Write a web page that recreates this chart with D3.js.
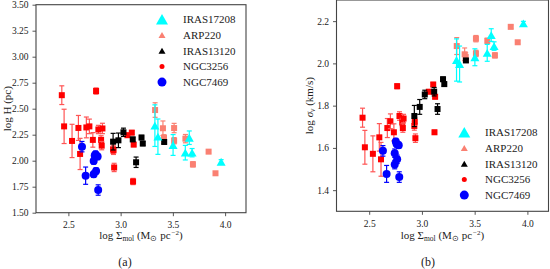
<!DOCTYPE html>
<html><head><meta charset="utf-8">
<script src="https://cdn.jsdelivr.net/npm/d3@7"></script>
<style>body{margin:0;background:#fff}svg{display:block}</style>
</head><body>
<svg id="c" width="550" height="269"></svg>
<script>
// ---------- DATA ----------
const seriesNames = ["IRAS17208", "ARP220", "IRAS13120", "NGC3256", "NGC7469"];

const iras17208_x = [3.328, 3.357, 3.502, 3.619, 3.657, 3.684, 3.962];
const iras17208_logH = [2.337, 2.231, 2.151, 2.077, 2.221, 2.077, 1.99];
const iras17208_logH_err = [0.2, 0.17, 0.1, 0.07, 0.065, 0.04, 0.02];
const iras17208_logSig = [2.016, 1.997, 2.029, 2.05, 2.134, 2.082, 2.189];
const iras17208_logSig_err = [0.1, 0.085, 0.04, 0.04, 0.03, 0.02, 0.01];

const arp220_x = [3.330, 3.405, 3.415, 3.512, 3.512, 3.620, 3.692, 3.842, 3.908];
const arp220_logH = [2.487, 2.312, 2.22, 2.314, 2.192, 2.212, 1.965, 2.087, 1.879];
const arp220_logH_err = [0.07, 0.07, 0.03, 0.045, 0.03, 0.04, 0.025, 0.015, 0.015];
const arp220_logSig = [2.082, 2.043, 2.03, 2.117, 2.047, 2.107, 2.038, 2.173, 2.1];
const arp220_logSig_err = [0.04, 0.03, 0.02, 0.015, 0.015, 0.012, 0.012, 0.008, 0.008];

const iras13120_x = [2.928, 2.979, 3.027, 3.116, 3.148, 3.200, 3.212, 3.417];
const iras13120_logH = [2.183, 2.196, 2.273, 2.205, 1.985, 2.223, 2.165, 2.18];
const iras13120_logH_err = [0.08, 0.07, 0.04, 0.02, 0.05, 0.02, 0.02, 0.015];
const iras13120_logSig = [1.751, 1.794, 1.853, 1.866, 1.784, 1.925, 1.902, 2.014];
const iras13120_logSig_err = [0.05, 0.035, 0.02, 0.02, 0.025, 0.01, 0.01, 0.008];

const ngc3256_x = [2.437, 2.459, 2.535, 2.596, 2.612, 2.672, 2.701, 2.734, 2.765, 2.787, 2.813, 2.819, 2.826, 2.928, 2.932, 2.938, 3.065, 3.107, 3.119, 3.125];
const ngc3256_logH = [2.63, 2.33, 2.19, 2.315, 2.065, 2.32, 2.33, 2.20, 2.67, 2.30, 2.20, 2.145, 2.31, 2.11, 2.10, 1.935, 2.245, 2.27, 1.80, 2.155];
const ngc3256_logH_err = [0.09, 0.165, 0.16, 0.12, 0.15, 0.10, 0.07, 0.07, 0.03, 0.04, 0.04, 0.04, 0.05, 0.04, 0.04, 0.04, 0.02, 0.02, 0.03, 0.02];
const ngc3256_logSig = [1.743, 1.603, 1.572, 1.65, 1.546, 1.694, 1.726, 1.674, 1.892, 1.751, 1.72, 1.694, 1.739, 1.704, 1.724, 1.646, 1.866, 1.9, 1.674, 1.842];
const ngc3256_logSig_err = [0.045, 0.08, 0.085, 0.065, 0.08, 0.045, 0.035, 0.04, 0.012, 0.02, 0.02, 0.02, 0.02, 0.02, 0.02, 0.02, 0.01, 0.01, 0.01, 0.01];

const ngc7469_x = [2.630, 2.665, 2.742, 2.742, 2.752, 2.760, 2.765, 2.780, 2.785];
const ngc7469_logH = [2.135, 1.856, 1.997, 1.869, 2.05, 2.062, 1.901, 2.04, 1.718];
const ngc7469_logH_err = [0.05, 0.083, 0.03, 0.03, 0.03, 0.03, 0.03, 0.03, 0.05];
const ngc7469_logSig = [1.586, 1.477, 1.575, 1.521, 1.63, 1.619, 1.546, 1.613, 1.462];
const ngc7469_logSig_err = [0.025, 0.04, 0.02, 0.02, 0.015, 0.015, 0.02, 0.015, 0.025];

const xTicks = [2.5, 3.0, 3.5, 4.0];
const yTicksA = [1.50, 1.75, 2.00, 2.25, 2.50, 2.75, 3.00, 3.25, 3.50];
const yTicksB = [1.4, 1.6, 1.8, 2.0, 2.2];

// ---------- STYLE ----------
const FONT = "'Liberation Serif','Times New Roman',serif";
const styles = {
  IRAS17208: {color: "#00ffff", bar: "#00ffff", shape: "tri", size: 9, legShape: "tri", legSize: 12},
  ARP220:    {color: "#fa8072", bar: "#fa8072", shape: "sq", size: 6, legShape: "tri", legSize: 7},
  IRAS13120: {color: "#000000", bar: "#000000", shape: "sq", size: 6, legShape: "tri", legSize: 7},
  NGC3256:   {color: "#ff0000", bar: "#ff5555", shape: "sq", size: 6, legShape: "circ", legSize: 5},
  NGC7469:   {color: "#0000ff", bar: "#0000ff", shape: "circ", size: 8, legShape: "circ", legSize: 9}
};

function build(x, y, e) { return x.map((v, i) => ({x: v, y: y[i], e: e[i]})); }

const panelA = {
  x0: 36, x1: 246, y0: 4.7, y1: 212.7, yDomain: [1.5, 3.5], yTicks: yTicksA, fmt: d3.format(".2f"),
  series: {
    ARP220: build(arp220_x, arp220_logH, arp220_logH_err),
    NGC3256: build(ngc3256_x, ngc3256_logH, ngc3256_logH_err),
    IRAS13120: build(iras13120_x, iras13120_logH, iras13120_logH_err),
    NGC7469: build(ngc7469_x, ngc7469_logH, ngc7469_logH_err),
    IRAS17208: build(iras17208_x, iras17208_logH, iras17208_logH_err)
  },
  legend: {mx: 162, tx: 183, y: 19.3, dy: 15.7},
  ylabel: "H", ylx: 10.5, caption: "(a)", capX: 125
};
const panelB = {
  x0: 336.5, x1: 548.5, y0: 0, y1: 211.3, yDomain: [1.3, 2.3], yTicks: yTicksB, fmt: d3.format(".1f"),
  series: {
    ARP220: build(arp220_x, arp220_logSig, arp220_logSig_err),
    NGC3256: build(ngc3256_x, ngc3256_logSig, ngc3256_logSig_err),
    IRAS13120: build(iras13120_x, iras13120_logSig, iras13120_logSig_err),
    NGC7469: build(ngc7469_x, ngc7469_logSig, ngc7469_logSig_err),
    IRAS17208: build(iras17208_x, iras17208_logSig, iras17208_logSig_err)
  },
  legend: {mx: 464.3, tx: 485, y: 132.3, dy: 15.7},
  ylabel: "sigma", ylx: 313, caption: "(b)", capX: 428
};

const svg = d3.select("#c");

function marker(g, shape, cx, cy, size, color) {
  if (shape === "sq") {
    g.append("rect").attr("x", cx - size / 2).attr("y", cy - size / 2)
      .attr("width", size).attr("height", size).attr("fill", color);
  } else if (shape === "circ") {
    g.append("circle").attr("cx", cx).attr("cy", cy).attr("r", size / 2).attr("fill", color);
  } else {
    const h = size * 0.87;
    g.append("path").attr("d", `M${cx - size / 2},${cy + h / 2}L${cx + size / 2},${cy + h / 2}L${cx},${cy - h / 2}Z`)
      .attr("fill", color);
  }
}

function drawPanel(p) {
  const xs = d3.scaleLinear().domain([2.19, 4.2]).range([p.x0, p.x1]);
  const ys = d3.scaleLinear().domain(p.yDomain).range([p.y1, p.y0]);
  const g = svg.append("g");

  const order = ["ARP220", "NGC3256", "IRAS13120", "NGC7469", "IRAS17208"];
  order.forEach(name => {
    const st = styles[name];
    const sg = g.append("g");
    p.series[name].forEach(d => {
      const cx = xs(d.x), cy = ys(d.y);
      const top = ys(d.y + d.e), bot = ys(d.y - d.e);
      sg.append("line").attr("x1", cx).attr("x2", cx).attr("y1", top).attr("y2", bot)
        .attr("stroke", st.bar).attr("stroke-width", 1.2);
      [top, bot].forEach(yy => sg.append("line").attr("x1", cx - 2.5).attr("x2", cx + 2.5)
        .attr("y1", yy).attr("y2", yy).attr("stroke", st.bar).attr("stroke-width", 1.2));
      marker(sg, st.shape, cx, cy, st.size, st.color);
    });
  });

  const ax = g.append("g").attr("transform", `translate(0,${p.y1})`)
    .call(d3.axisBottom(xs).tickValues(xTicks).tickFormat(d3.format(".1f")).tickSize(3.5).tickSizeOuter(0));
  const ay = g.append("g").attr("transform", `translate(${p.x0},0)`)
    .call(d3.axisLeft(ys).tickValues(p.yTicks).tickFormat(p.fmt).tickSize(3.5).tickSizeOuter(0));
  [ax, ay].forEach(a => {
    a.select(".domain").remove();
    a.selectAll("line").attr("stroke", "#444").attr("stroke-width", 0.9);
    a.selectAll("text").attr("font-family", FONT).attr("font-size", 9.5).attr("fill", "#222");
  });
  ax.selectAll("text").attr("dy", "0.95em");
  ay.selectAll("text").attr("dx", "-0.1em");
  g.append("rect").attr("x", p.x0).attr("y", p.y0).attr("width", p.x1 - p.x0).attr("height", p.y1 - p.y0)
    .attr("fill", "none").attr("stroke", "#444").attr("stroke-width", 1.1);

  seriesNames.forEach((name, i) => {
    const st = styles[name];
    const yy = p.legend.y + i * p.legend.dy;
    marker(g, st.legShape, p.legend.mx, yy, st.legSize, st.color);
    g.append("text").attr("x", p.legend.tx).attr("y", yy).attr("dy", "0.35em")
      .attr("font-family", FONT).attr("font-size", 11).attr("fill", "#222").text(name);
  });

  const cxm = (p.x0 + p.x1) / 2;
  const xl = g.append("text").attr("x", cxm).attr("y", 239).attr("text-anchor", "middle")
    .attr("font-family", FONT).attr("font-size", 11).attr("fill", "#222");
  xl.append("tspan").text("log Σ");
  xl.append("tspan").attr("font-size", 7.5).attr("dy", 2).text("mol");
  xl.append("tspan").attr("dy", -2).text(" (M");
  xl.append("tspan").attr("font-size", 7.5).attr("dy", 2).text("⊙");
  xl.append("tspan").attr("dy", -2).text(" pc");
  xl.append("tspan").attr("font-size", 7).attr("dy", -4).attr("dx", 1).text("−2");
  xl.append("tspan").attr("dy", 4).text(")");

  const cym = (p.y0 + p.y1) / 2;
  const yl = g.append("text").attr("transform", `translate(${p.ylx},${cym}) rotate(-90)`)
    .attr("text-anchor", "middle").attr("font-family", FONT).attr("font-size", 11).attr("fill", "#222");
  if (p.ylabel === "H") {
    yl.text("log H (pc)");
  } else {
    yl.append("tspan").text("log ");
    yl.append("tspan").attr("font-style", "italic").text("σ");
    yl.append("tspan").attr("font-style", "italic").attr("font-size", 7.5).attr("dy", 2).text("v");
    yl.append("tspan").attr("dy", -2).text(" (km/s)");
  }

  g.append("text").attr("x", p.capX).attr("y", 262).attr("dy", "0.35em").attr("text-anchor", "middle")
    .attr("font-family", FONT).attr("font-size", 12).attr("fill", "#222").text(p.caption);
}

drawPanel(panelA);
drawPanel(panelB);
</script>
</body></html>
